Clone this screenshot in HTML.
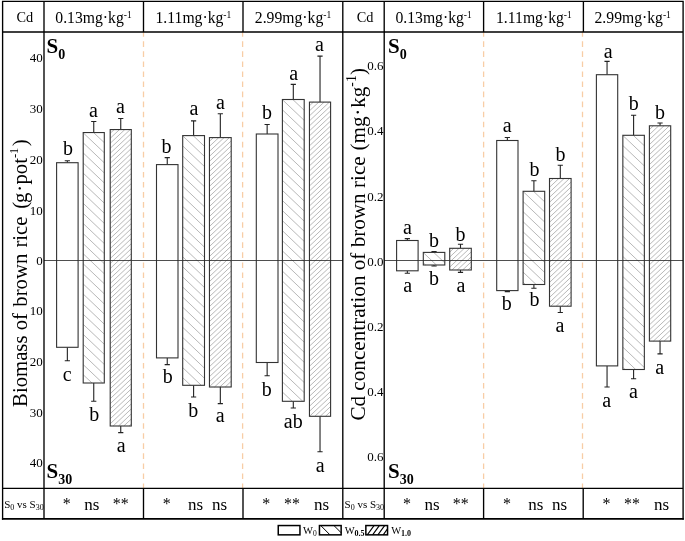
<!DOCTYPE html>
<html lang="en"><head><meta charset="utf-8"><title>Brown rice biomass and Cd concentration</title>
<style>html,body{margin:0;padding:0;background:#fff}svg{display:block}text{font-family:"Liberation Serif","Times New Roman",serif;fill:#000}.ln{stroke:#000;stroke-width:1.35;fill:none}.bar{stroke:#333;stroke-width:1.1;}.hat{stroke:#555;stroke-width:0.42;fill:none}.err{stroke:#222;stroke-width:1.1;fill:none}.dash{stroke:#f8cda6;stroke-width:1.3;stroke-dasharray:5.6 4.45;fill:none}.zero{stroke:#222;stroke-width:0.8;fill:none}.lt{font-size:20px;text-anchor:middle}.sg{font-size:21px;text-anchor:middle}.hd{font-size:15.7px;text-anchor:middle}.tk{font-size:13px;text-anchor:end}.yl{font-size:21.33px;}.sb{font-weight:bold;font-size:21px}.lg{font-size:10.5px}</style></head><body>
<svg width="685" height="541" viewBox="0 0 685 541">
<rect x="0" y="0" width="685" height="541" fill="#fff"/>
<line class="dash" x1="143.5" y1="31.25" x2="143.5" y2="488"/>
<line class="dash" x1="242.6" y1="31.25" x2="242.6" y2="488"/>
<line class="dash" x1="483.6" y1="31.25" x2="483.6" y2="488"/>
<line class="dash" x1="582.5" y1="31.25" x2="582.5" y2="488"/>
<line class="zero" x1="44" y1="260.5" x2="342.8" y2="260.5"/>
<line class="zero" x1="384.3" y1="260.5" x2="683" y2="260.5"/>
<path class="err" d="M67.35,162.7 V160.7 M64.75,160.7 H69.95 M67.35,347.3 V360.7 M64.75,360.7 H69.95"/>
<rect x="56.6" y="162.7" width="21.5" height="184.6" fill="#fff"/>
<rect class="bar" x="56.6" y="162.7" width="21.5" height="184.6" fill="none"/>
<line class="zero" x1="56.6" y1="260.5" x2="78.1" y2="260.5"/>
<path class="err" d="M93.75,132.55 V121.5 M91.15,121.5 H96.35 M93.75,383 V401.3 M91.15,401.3 H96.35"/>
<rect x="83.2" y="132.55" width="21.1" height="250.45" fill="#fff"/>
<path class="hat" d="M93.6,132.6L104.3,142.7M83.2,132.8L104.3,152.8M83.2,142.8L104.3,162.9M83.2,152.9L104.3,173.0M83.2,163.0L104.3,183.0M83.2,173.1L104.3,193.1M83.2,183.2L104.3,203.2M83.2,193.2L104.3,213.3M83.2,203.3L104.3,223.4M83.2,213.4L104.3,233.4M83.2,223.5L104.3,243.5M83.2,233.6L104.3,253.6M83.2,243.6L104.3,263.7M83.2,253.7L104.3,273.8M83.2,263.8L104.3,283.8M83.2,273.9L104.3,293.9M83.2,283.9L104.3,304.0M83.2,294.0L104.3,314.1M83.2,304.1L104.3,324.2M83.2,314.2L104.3,334.2M83.2,324.3L104.3,344.3M83.2,334.4L104.3,354.4M83.2,344.4L104.3,364.5M83.2,354.5L104.3,374.6M83.2,364.6L102.6,383.0M83.2,374.7L92.0,383.0"/>
<rect class="bar" x="83.2" y="132.55" width="21.1" height="250.45" fill="none"/>
<line class="zero" x1="83.2" y1="260.5" x2="104.3" y2="260.5"/>
<path class="err" d="M120.75,129.55 V118.5 M118.15,118.5 H123.35 M120.75,426 V432.6 M118.15,432.6 H123.35"/>
<rect x="110.2" y="129.55" width="21.1" height="296.45" fill="#fff"/>
<path class="hat" d="M110.2,133.3L114.2,129.6M110.2,138.3L119.5,129.6M110.2,143.3L124.8,129.6M110.2,148.3L130.2,129.6M110.2,153.3L131.3,133.5M110.2,158.3L131.3,138.5M110.2,163.3L131.3,143.5M110.2,168.4L131.3,148.5M110.2,173.4L131.3,153.5M110.2,178.4L131.3,158.5M110.2,183.4L131.3,163.5M110.2,188.4L131.3,168.6M110.2,193.4L131.3,173.6M110.2,198.4L131.3,178.6M110.2,203.4L131.3,183.6M110.2,208.4L131.3,188.6M110.2,213.4L131.3,193.6M110.2,218.4L131.3,198.6M110.2,223.4L131.3,203.6M110.2,228.5L131.3,208.6M110.2,233.5L131.3,213.6M110.2,238.5L131.3,218.6M110.2,243.5L131.3,223.6M110.2,248.5L131.3,228.7M110.2,253.5L131.3,233.7M110.2,258.5L131.3,238.7M110.2,263.5L131.3,243.7M110.2,268.5L131.3,248.7M110.2,273.5L131.3,253.7M110.2,278.5L131.3,258.7M110.2,283.5L131.3,263.7M110.2,288.5L131.3,268.7M110.2,293.6L131.3,273.7M110.2,298.6L131.3,278.7M110.2,303.6L131.3,283.7M110.2,308.6L131.3,288.7M110.2,313.6L131.3,293.8M110.2,318.6L131.3,298.8M110.2,323.6L131.3,303.8M110.2,328.6L131.3,308.8M110.2,333.6L131.3,313.8M110.2,338.6L131.3,318.8M110.2,343.6L131.3,323.8M110.2,348.6L131.3,328.8M110.2,353.7L131.3,333.8M110.2,358.7L131.3,338.8M110.2,363.7L131.3,343.8M110.2,368.7L131.3,348.8M110.2,373.7L131.3,353.9M110.2,378.7L131.3,358.9M110.2,383.7L131.3,363.9M110.2,388.7L131.3,368.9M110.2,393.7L131.3,373.9M110.2,398.7L131.3,378.9M110.2,403.7L131.3,383.9M110.2,408.7L131.3,388.9M110.2,413.7L131.3,393.9M110.2,418.8L131.3,398.9M110.2,423.8L131.3,403.9M113.1,426.0L131.3,408.9M118.5,426.0L131.3,413.9M123.8,426.0L131.3,419.0M129.1,426.0L131.3,424.0"/>
<rect class="bar" x="110.2" y="129.55" width="21.1" height="296.45" fill="none"/>
<line class="zero" x1="110.2" y1="260.5" x2="131.3" y2="260.5"/>
<path class="err" d="M167.25,164.6 V157.6 M164.65,157.6 H169.85 M167.25,357.9 V364.6 M164.65,364.6 H169.85"/>
<rect x="156.5" y="164.6" width="21.5" height="193.3" fill="#fff"/>
<rect class="bar" x="156.5" y="164.6" width="21.5" height="193.3" fill="none"/>
<line class="zero" x1="156.5" y1="260.5" x2="178" y2="260.5"/>
<path class="err" d="M193.6,135.6 V120.9 M191,120.9 H196.2 M193.6,385.3 V397 M191,397 H196.2"/>
<rect x="182.7" y="135.6" width="21.8" height="249.7" fill="#fff"/>
<path class="hat" d="M203.7,135.6L204.5,136.3M193.1,135.6L204.5,146.4M182.7,135.8L204.5,156.5M182.7,145.9L204.5,166.6M182.7,156.0L204.5,176.7M182.7,166.0L204.5,186.8M182.7,176.1L204.5,196.8M182.7,186.2L204.5,206.9M182.7,196.3L204.5,217.0M182.7,206.4L204.5,227.1M182.7,216.4L204.5,237.2M182.7,226.5L204.5,247.2M182.7,236.6L204.5,257.3M182.7,246.7L204.5,267.4M182.7,256.8L204.5,277.5M182.7,266.8L204.5,287.6M182.7,276.9L204.5,297.6M182.7,287.0L204.5,307.7M182.7,297.1L204.5,317.8M182.7,307.2L204.5,327.9M182.7,317.2L204.5,338.0M182.7,327.3L204.5,348.0M182.7,337.4L204.5,358.1M182.7,347.5L204.5,368.2M182.7,357.6L204.5,378.3M182.7,367.6L201.3,385.3M182.7,377.7L190.7,385.3"/>
<rect class="bar" x="182.7" y="135.6" width="21.8" height="249.7" fill="none"/>
<line class="zero" x1="182.7" y1="260.5" x2="204.5" y2="260.5"/>
<path class="err" d="M220.325,137.6 V113.7 M217.725,113.7 H222.925 M220.325,387 V403.6 M217.725,403.6 H222.925"/>
<rect x="209.45" y="137.6" width="21.75" height="249.4" fill="#fff"/>
<path class="hat" d="M209.4,141.3L213.4,137.6M209.4,146.4L218.8,137.6M209.4,151.4L224.1,137.6M209.4,156.4L229.4,137.6M209.4,161.4L231.2,140.9M209.4,166.4L231.2,145.9M209.4,171.4L231.2,151.0M209.4,176.4L231.2,156.0M209.4,181.4L231.2,161.0M209.4,186.4L231.2,166.0M209.4,191.4L231.2,171.0M209.4,196.4L231.2,176.0M209.4,201.4L231.2,181.0M209.4,206.5L231.2,186.0M209.4,211.5L231.2,191.0M209.4,216.5L231.2,196.0M209.4,221.5L231.2,201.0M209.4,226.5L231.2,206.0M209.4,231.5L231.2,211.0M209.4,236.5L231.2,216.1M209.4,241.5L231.2,221.1M209.4,246.5L231.2,226.1M209.4,251.5L231.2,231.1M209.4,256.5L231.2,236.1M209.4,261.5L231.2,241.1M209.4,266.6L231.2,246.1M209.4,271.6L231.2,251.1M209.4,276.6L231.2,256.1M209.4,281.6L231.2,261.1M209.4,286.6L231.2,266.1M209.4,291.6L231.2,271.1M209.4,296.6L231.2,276.2M209.4,301.6L231.2,281.2M209.4,306.6L231.2,286.2M209.4,311.6L231.2,291.2M209.4,316.6L231.2,296.2M209.4,321.6L231.2,301.2M209.4,326.6L231.2,306.2M209.4,331.7L231.2,311.2M209.4,336.7L231.2,316.2M209.4,341.7L231.2,321.2M209.4,346.7L231.2,326.2M209.4,351.7L231.2,331.2M209.4,356.7L231.2,336.2M209.4,361.7L231.2,341.3M209.4,366.7L231.2,346.3M209.4,371.7L231.2,351.3M209.4,376.7L231.2,356.3M209.4,381.7L231.2,361.3M209.4,386.7L231.2,366.3M214.5,387.0L231.2,371.3M219.8,387.0L231.2,376.3M225.2,387.0L231.2,381.3M230.5,387.0L231.2,386.3"/>
<rect class="bar" x="209.45" y="137.6" width="21.75" height="249.4" fill="none"/>
<line class="zero" x1="209.45" y1="260.5" x2="231.2" y2="260.5"/>
<path class="err" d="M267.15,134 V124.5 M264.55,124.5 H269.75 M267.15,362.5 V375.7 M264.55,375.7 H269.75"/>
<rect x="256.3" y="134" width="21.7" height="228.5" fill="#fff"/>
<rect class="bar" x="256.3" y="134" width="21.7" height="228.5" fill="none"/>
<line class="zero" x1="256.3" y1="260.5" x2="278" y2="260.5"/>
<path class="err" d="M293.3,99.5 V84.4 M290.7,84.4 H295.9 M293.3,401.3 V408 M290.7,408 H295.9"/>
<rect x="282.4" y="99.5" width="21.8" height="301.8" fill="#fff"/>
<path class="hat" d="M303.4,99.5L304.2,100.3M292.8,99.5L304.2,110.3M282.4,99.7L304.2,120.4M282.4,109.8L304.2,130.5M282.4,119.9L304.2,140.6M282.4,129.9L304.2,150.7M282.4,140.0L304.2,160.7M282.4,150.1L304.2,170.8M282.4,160.2L304.2,180.9M282.4,170.3L304.2,191.0M282.4,180.3L304.2,201.1M282.4,190.4L304.2,211.1M282.4,200.5L304.2,221.2M282.4,210.6L304.2,231.3M282.4,220.7L304.2,241.4M282.4,230.7L304.2,251.5M282.4,240.8L304.2,261.5M282.4,250.9L304.2,271.6M282.4,261.0L304.2,281.7M282.4,271.1L304.2,291.8M282.4,281.1L304.2,301.9M282.4,291.2L304.2,311.9M282.4,301.3L304.2,322.0M282.4,311.4L304.2,332.1M282.4,321.5L304.2,342.2M282.4,331.5L304.2,352.3M282.4,341.6L304.2,362.3M282.4,351.7L304.2,372.4M282.4,361.8L304.2,382.5M282.4,371.9L304.2,392.6M282.4,381.9L302.8,401.3M282.4,392.0L292.2,401.3"/>
<rect class="bar" x="282.4" y="99.5" width="21.8" height="301.8" fill="none"/>
<line class="zero" x1="282.4" y1="260.5" x2="304.2" y2="260.5"/>
<path class="err" d="M320.025,102.1 V56.1 M317.425,56.1 H322.625 M320.025,416.3 V451.8 M317.425,451.8 H322.625"/>
<rect x="309.45" y="102.1" width="21.15" height="314.2" fill="#fff"/>
<path class="hat" d="M309.4,105.8L313.4,102.1M309.4,110.9L318.8,102.1M309.4,115.9L324.1,102.1M309.4,120.9L329.4,102.1M309.4,125.9L330.6,106.0M309.4,130.9L330.6,111.0M309.4,135.9L330.6,116.0M309.4,140.9L330.6,121.0M309.4,145.9L330.6,126.0M309.4,150.9L330.6,131.0M309.4,155.9L330.6,136.0M309.4,160.9L330.6,141.1M309.4,165.9L330.6,146.1M309.4,171.0L330.6,151.1M309.4,176.0L330.6,156.1M309.4,181.0L330.6,161.1M309.4,186.0L330.6,166.1M309.4,191.0L330.6,171.1M309.4,196.0L330.6,176.1M309.4,201.0L330.6,181.1M309.4,206.0L330.6,186.1M309.4,211.0L330.6,191.1M309.4,216.0L330.6,196.1M309.4,221.0L330.6,201.2M309.4,226.0L330.6,206.2M309.4,231.1L330.6,211.2M309.4,236.1L330.6,216.2M309.4,241.1L330.6,221.2M309.4,246.1L330.6,226.2M309.4,251.1L330.6,231.2M309.4,256.1L330.6,236.2M309.4,261.1L330.6,241.2M309.4,266.1L330.6,246.2M309.4,271.1L330.6,251.2M309.4,276.1L330.6,256.2M309.4,281.1L330.6,261.2M309.4,286.1L330.6,266.3M309.4,291.1L330.6,271.3M309.4,296.2L330.6,276.3M309.4,301.2L330.6,281.3M309.4,306.2L330.6,286.3M309.4,311.2L330.6,291.3M309.4,316.2L330.6,296.3M309.4,321.2L330.6,301.3M309.4,326.2L330.6,306.3M309.4,331.2L330.6,311.3M309.4,336.2L330.6,316.3M309.4,341.2L330.6,321.3M309.4,346.2L330.6,326.4M309.4,351.2L330.6,331.4M309.4,356.2L330.6,336.4M309.4,361.3L330.6,341.4M309.4,366.3L330.6,346.4M309.4,371.3L330.6,351.4M309.4,376.3L330.6,356.4M309.4,381.3L330.6,361.4M309.4,386.3L330.6,366.4M309.4,391.3L330.6,371.4M309.4,396.3L330.6,376.4M309.4,401.3L330.6,381.4M309.4,406.3L330.6,386.4M309.4,411.3L330.6,391.5M309.5,416.3L330.6,396.5M314.8,416.3L330.6,401.5M320.2,416.3L330.6,406.5M325.5,416.3L330.6,411.5"/>
<rect class="bar" x="309.45" y="102.1" width="21.15" height="314.2" fill="none"/>
<line class="zero" x1="309.45" y1="260.5" x2="330.6" y2="260.5"/>
<path class="err" d="M407.35,240.5 V238.6 M404.75,238.6 H409.95 M407.35,270.8 V273.2 M404.75,273.2 H409.95"/>
<rect x="396.6" y="240.5" width="21.5" height="30.3" fill="#fff"/>
<rect class="bar" x="396.6" y="240.5" width="21.5" height="30.3" fill="none"/>
<line class="zero" x1="396.6" y1="260.5" x2="418.1" y2="260.5"/>
<path class="err" d="M434.05,252.4 V251.5 M431.45,251.5 H436.65 M434.05,265 V266 M431.45,266 H436.65"/>
<rect x="423.3" y="252.4" width="21.5" height="12.6" fill="#fff"/>
<path class="hat" d="M444.3,252.4L444.8,252.9M433.7,252.4L444.8,262.9M423.3,252.6L436.4,265.0M423.3,262.7L425.7,265.0"/>
<rect class="bar" x="423.3" y="252.4" width="21.5" height="12.6" fill="none"/>
<line class="zero" x1="423.3" y1="260.5" x2="444.8" y2="260.5"/>
<path class="err" d="M460.5,248.3 V244.2 M457.9,244.2 H463.1 M460.5,270 V272.4 M457.9,272.4 H463.1"/>
<rect x="449.7" y="248.3" width="21.6" height="21.7" fill="#fff"/>
<path class="hat" d="M449.7,252.1L453.7,248.3M449.7,257.1L459.0,248.3M449.7,262.1L464.3,248.3M449.7,267.1L469.7,248.3M451.9,270.0L471.3,251.8M457.2,270.0L471.3,256.8M462.6,270.0L471.3,261.8M467.9,270.0L471.3,266.8"/>
<rect class="bar" x="449.7" y="248.3" width="21.6" height="21.7" fill="none"/>
<line class="zero" x1="449.7" y1="260.5" x2="471.3" y2="260.5"/>
<path class="err" d="M507.35,140.5 V137.5 M504.75,137.5 H509.95 M507.35,290.6 V291.6 M504.75,291.6 H509.95"/>
<rect x="496.7" y="140.5" width="21.3" height="150.1" fill="#fff"/>
<rect class="bar" x="496.7" y="140.5" width="21.3" height="150.1" fill="none"/>
<line class="zero" x1="496.7" y1="260.5" x2="518" y2="260.5"/>
<path class="err" d="M533.9,191.3 V180.8 M531.3,180.8 H536.5 M533.9,284.5 V288.3 M531.3,288.3 H536.5"/>
<rect x="523.1" y="191.3" width="21.6" height="93.2" fill="#fff"/>
<path class="hat" d="M544.1,191.3L544.7,191.9M533.5,191.3L544.7,201.9M523.1,191.5L544.7,212.0M523.1,201.6L544.7,222.1M523.1,211.7L544.7,232.2M523.1,221.7L544.7,242.3M523.1,231.8L544.7,252.3M523.1,241.9L544.7,262.4M523.1,252.0L544.7,272.5M523.1,262.1L544.7,282.6M523.1,272.1L536.1,284.5M523.1,282.2L525.5,284.5"/>
<rect class="bar" x="523.1" y="191.3" width="21.6" height="93.2" fill="none"/>
<line class="zero" x1="523.1" y1="260.5" x2="544.7" y2="260.5"/>
<path class="err" d="M560.3,178.5 V165.3 M557.7,165.3 H562.9 M560.3,306.2 V312.5 M557.7,312.5 H562.9"/>
<rect x="549.5" y="178.5" width="21.6" height="127.7" fill="#fff"/>
<path class="hat" d="M549.5,182.2L553.5,178.5M549.5,187.3L558.8,178.5M549.5,192.3L564.1,178.5M549.5,197.3L569.5,178.5M549.5,202.3L571.1,182.0M549.5,207.3L571.1,187.0M549.5,212.3L571.1,192.0M549.5,217.3L571.1,197.0M549.5,222.3L571.1,202.0M549.5,227.3L571.1,207.0M549.5,232.3L571.1,212.0M549.5,237.3L571.1,217.0M549.5,242.3L571.1,222.0M549.5,247.4L571.1,227.0M549.5,252.4L571.1,232.1M549.5,257.4L571.1,237.1M549.5,262.4L571.1,242.1M549.5,267.4L571.1,247.1M549.5,272.4L571.1,252.1M549.5,277.4L571.1,257.1M549.5,282.4L571.1,262.1M549.5,287.4L571.1,267.1M549.5,292.4L571.1,272.1M549.5,297.4L571.1,277.1M549.5,302.4L571.1,282.1M550.8,306.2L571.1,287.1M556.2,306.2L571.1,292.2M561.5,306.2L571.1,297.2M566.8,306.2L571.1,302.2"/>
<rect class="bar" x="549.5" y="178.5" width="21.6" height="127.7" fill="none"/>
<line class="zero" x1="549.5" y1="260.5" x2="571.1" y2="260.5"/>
<path class="err" d="M607.05,74.7 V61.4 M604.45,61.4 H609.65 M607.05,365.9 V387 M604.45,387 H609.65"/>
<rect x="596.4" y="74.7" width="21.3" height="291.2" fill="#fff"/>
<rect class="bar" x="596.4" y="74.7" width="21.3" height="291.2" fill="none"/>
<line class="zero" x1="596.4" y1="260.5" x2="617.7" y2="260.5"/>
<path class="err" d="M633.6,135.3 V115.3 M631,115.3 H636.2 M633.6,369.5 V378.8 M631,378.8 H636.2"/>
<rect x="622.85" y="135.3" width="21.5" height="234.2" fill="#fff"/>
<path class="hat" d="M643.9,135.3L644.4,135.8M633.2,135.3L644.4,145.8M622.9,135.5L644.4,155.9M622.9,145.6L644.4,166.0M622.9,155.7L644.4,176.1M622.9,165.7L644.4,186.2M622.9,175.8L644.4,196.2M622.9,185.9L644.4,206.3M622.9,196.0L644.4,216.4M622.9,206.1L644.4,226.5M622.9,216.1L644.4,236.6M622.9,226.2L644.4,246.6M622.9,236.3L644.4,256.7M622.9,246.4L644.4,266.8M622.9,256.5L644.4,276.9M622.9,266.5L644.4,287.0M622.9,276.6L644.4,297.0M622.9,286.7L644.4,307.1M622.9,296.8L644.4,317.2M622.9,306.9L644.4,327.3M622.9,316.9L644.4,337.4M622.9,327.0L644.4,347.4M622.9,337.1L644.4,357.5M622.9,347.2L644.4,367.6M622.9,357.3L635.7,369.5M622.9,367.3L625.1,369.5"/>
<rect class="bar" x="622.85" y="135.3" width="21.5" height="234.2" fill="none"/>
<line class="zero" x1="622.85" y1="260.5" x2="644.35" y2="260.5"/>
<path class="err" d="M660.05,125.8 V123 M657.45,123 H662.65 M660.05,341.1 V353.9 M657.45,353.9 H662.65"/>
<rect x="649.4" y="125.8" width="21.3" height="215.3" fill="#fff"/>
<path class="hat" d="M649.4,129.6L653.4,125.8M649.4,134.6L658.7,125.8M649.4,139.6L664.0,125.8M649.4,144.6L669.4,125.8M649.4,149.6L670.7,129.6M649.4,154.6L670.7,134.6M649.4,159.6L670.7,139.6M649.4,164.6L670.7,144.6M649.4,169.6L670.7,149.6M649.4,174.6L670.7,154.6M649.4,179.6L670.7,159.6M649.4,184.6L670.7,164.6M649.4,189.6L670.7,169.6M649.4,194.7L670.7,174.6M649.4,199.7L670.7,179.6M649.4,204.7L670.7,184.6M649.4,209.7L670.7,189.7M649.4,214.7L670.7,194.7M649.4,219.7L670.7,199.7M649.4,224.7L670.7,204.7M649.4,229.7L670.7,209.7M649.4,234.7L670.7,214.7M649.4,239.7L670.7,219.7M649.4,244.7L670.7,224.7M649.4,249.7L670.7,229.7M649.4,254.8L670.7,234.7M649.4,259.8L670.7,239.7M649.4,264.8L670.7,244.7M649.4,269.8L670.7,249.8M649.4,274.8L670.7,254.8M649.4,279.8L670.7,259.8M649.4,284.8L670.7,264.8M649.4,289.8L670.7,269.8M649.4,294.8L670.7,274.8M649.4,299.8L670.7,279.8M649.4,304.8L670.7,284.8M649.4,309.8L670.7,289.8M649.4,314.8L670.7,294.8M649.4,319.9L670.7,299.8M649.4,324.9L670.7,304.8M649.4,329.9L670.7,309.8M649.4,334.9L670.7,314.9M649.4,339.9L670.7,319.9M653.4,341.1L670.7,324.9M658.8,341.1L670.7,329.9M664.1,341.1L670.7,334.9M669.4,341.1L670.7,339.9"/>
<rect class="bar" x="649.4" y="125.8" width="21.3" height="215.3" fill="none"/>
<line class="zero" x1="649.4" y1="260.5" x2="670.7" y2="260.5"/>
<path class="ln" d="M2.6,1.4 H683.1 M2.6,0.73 V519.7 M683.1,0.73 V519.7 M2.6,32 H683.1 M2.6,488.3 H683.1 M44,1.4 V518.9 M342.8,1.4 V518.9 M384.2,1.4 V518.9"/>
<path class="ln" style="stroke-width:1.7" d="M1.93,518.9 H683.77"/>
<path class="ln" d="M143.5,1.4 V32 M243,1.4 V32 M483.6,1.4 V32 M583.4,1.4 V32 M143.5,488.3 V518.9 M243,488.3 V518.9 M483.6,488.3 V518.9 M583.2,488.3 V518.9"/>
<text class="hd" x="24.8" y="21.8" style="font-size:14.3px">Cd</text>
<text class="hd" x="365" y="21.8" style="font-size:14.3px">Cd</text>
<text class="hd" x="93.5" y="23">0.13mg·kg<tspan font-size="9.5px" dy="-4.8">-1</tspan></text>
<text class="hd" x="193.4" y="23">1.11mg·kg<tspan font-size="9.5px" dy="-4.8">-1</tspan></text>
<text class="hd" x="293" y="23">2.99mg·kg<tspan font-size="9.5px" dy="-4.8">-1</tspan></text>
<text class="hd" x="433.6" y="23">0.13mg·kg<tspan font-size="9.5px" dy="-4.8">-1</tspan></text>
<text class="hd" x="533.9" y="23">1.11mg·kg<tspan font-size="9.5px" dy="-4.8">-1</tspan></text>
<text class="hd" x="632.7" y="23">2.99mg·kg<tspan font-size="9.5px" dy="-4.8">-1</tspan></text>
<text class="tk" x="42.8" y="61.7">40</text>
<text class="tk" x="42.8" y="112.9">30</text>
<text class="tk" x="42.8" y="164">20</text>
<text class="tk" x="42.8" y="214.6">10</text>
<text class="tk" x="42.8" y="264.7">0</text>
<text class="tk" x="42.8" y="314.9">10</text>
<text class="tk" x="42.8" y="366">20</text>
<text class="tk" x="42.8" y="417.1">30</text>
<text class="tk" x="42.8" y="466.9">40</text>
<text class="tk" x="383.5" y="69.8">0.6</text>
<text class="tk" x="383.5" y="135.2">0.4</text>
<text class="tk" x="383.5" y="201.2">0.2</text>
<text class="tk" x="383.5" y="265.5">0.0</text>
<text class="tk" x="383.5" y="330.5">0.2</text>
<text class="tk" x="383.5" y="396.2">0.4</text>
<text class="tk" x="383.5" y="461.1">0.6</text>
<text class="yl" transform="translate(27.1,406.9) rotate(-90) scale(0.972,1)">Biomass of<tspan dx="1.3"> brown</tspan><tspan dx="1.0"> rice</tspan><tspan dx="2.8"> (</tspan><tspan dx="-1.2">g</tspan><tspan dx="0.8">·</tspan><tspan dx="0.3">pot</tspan><tspan font-size="13px" dy="-9">-1</tspan><tspan dy="9" dx="1.4">)</tspan></text>
<text class="yl" transform="translate(365.3,420.6) rotate(-90) scale(0.992,1)">Cd concentration of brown rice<tspan dx="0.5"> (</tspan>mg<tspan dx="0.8">·</tspan><tspan dx="0.8">kg</tspan><tspan font-size="14px" dy="-9">-1</tspan><tspan dy="9" dx="0">)</tspan></text>
<text class="sb" x="46.5" y="53.3">S<tspan font-size="14px" dy="5.5">0</tspan></text>
<text class="sb" x="46.5" y="478.3">S<tspan font-size="14px" dy="5.5">30</tspan></text>
<text class="sb" x="388" y="53.3">S<tspan font-size="14px" dy="5.5">0</tspan></text>
<text class="sb" x="388" y="478.3">S<tspan font-size="14px" dy="5.5">30</tspan></text>
<text class="lt" x="68" y="155.1">b</text>
<text class="lt" x="93.5" y="116.5">a</text>
<text class="lt" x="120.4" y="112.5">a</text>
<text class="lt" x="67.2" y="380.9">c</text>
<text class="lt" x="94.3" y="420.8">b</text>
<text class="lt" x="121.1" y="451.8">a</text>
<text class="lt" x="166.6" y="152.6">b</text>
<text class="lt" x="194" y="115">a</text>
<text class="lt" x="220.4" y="108.7">a</text>
<text class="lt" x="167.8" y="383">b</text>
<text class="lt" x="193.2" y="416.7">b</text>
<text class="lt" x="220.2" y="422.4">a</text>
<text class="lt" x="267" y="119.4">b</text>
<text class="lt" x="293.7" y="80.1">a</text>
<text class="lt" x="319.5" y="51.3">a</text>
<text class="lt" x="266.8" y="395.6">b</text>
<text class="lt" x="293.2" y="427.5">ab</text>
<text class="lt" x="320.2" y="471.5">a</text>
<text class="lt" x="407.4" y="233.8">a</text>
<text class="lt" x="433.9" y="247.2">b</text>
<text class="lt" x="460.6" y="240.9">b</text>
<text class="lt" x="407.7" y="292">a</text>
<text class="lt" x="433.9" y="285">b</text>
<text class="lt" x="461" y="291.6">a</text>
<text class="lt" x="507.2" y="132">a</text>
<text class="lt" x="534.4" y="175.5">b</text>
<text class="lt" x="560.6" y="160.8">b</text>
<text class="lt" x="506.7" y="309.9">b</text>
<text class="lt" x="534.4" y="305.8">b</text>
<text class="lt" x="560" y="331.9">a</text>
<text class="lt" x="608.3" y="58.3">a</text>
<text class="lt" x="633.8" y="110.3">b</text>
<text class="lt" x="659.9" y="119.4">b</text>
<text class="lt" x="606.6" y="406.5">a</text>
<text class="lt" x="633.5" y="398.1">a</text>
<text class="lt" x="659.6" y="373.7">a</text>
<text class="sg" x="66.7" y="509.2" style="font-size:16px">*</text>
<text class="sg" x="91.8" y="509.6" style="font-size:17px">ns</text>
<text class="sg" x="120.7" y="509.2" style="font-size:16px">**</text>
<text class="sg" x="166.7" y="509.2" style="font-size:16px">*</text>
<text class="sg" x="195.5" y="509.6" style="font-size:17px">ns</text>
<text class="sg" x="219.5" y="509.6" style="font-size:17px">ns</text>
<text class="sg" x="266.2" y="509.2" style="font-size:16px">*</text>
<text class="sg" x="292" y="509.2" style="font-size:16px">**</text>
<text class="sg" x="321.5" y="509.6" style="font-size:17px">ns</text>
<text class="sg" x="406.9" y="509.2" style="font-size:16px">*</text>
<text class="sg" x="432" y="509.6" style="font-size:17px">ns</text>
<text class="sg" x="460.8" y="509.2" style="font-size:16px">**</text>
<text class="sg" x="506.9" y="509.2" style="font-size:16px">*</text>
<text class="sg" x="535.9" y="509.6" style="font-size:17px">ns</text>
<text class="sg" x="559.5" y="509.6" style="font-size:17px">ns</text>
<text class="sg" x="606.4" y="509.2" style="font-size:16px">*</text>
<text class="sg" x="632.1" y="509.2" style="font-size:16px">**</text>
<text class="sg" x="661.5" y="509.6" style="font-size:17px">ns</text>
<text x="4.2" y="507.6" font-size="11px">S<tspan font-size="8px" dy="2.6">0</tspan><tspan dy="-2.6"> vs S</tspan><tspan font-size="8px" dy="2.6">30</tspan></text>
<text x="344.5" y="507.6" font-size="11px">S<tspan font-size="8px" dy="2.6">0</tspan><tspan dy="-2.6"> vs S</tspan><tspan font-size="8px" dy="2.6">30</tspan></text>
<rect x="278.25" y="525.55" width="21.7" height="9.3" fill="#fff" stroke="#000" stroke-width="1.5"/>
<rect x="319.45" y="525.55" width="21.7" height="9.3" fill="#fff" stroke="#000" stroke-width="1.5"/>
<rect x="365.85" y="525.55" width="21.7" height="9.3" fill="#fff" stroke="#000" stroke-width="1.5"/>
<path d="M320.8,525.6 L330,534.9 M334,525.6 L341.2,532.8" stroke="#000" stroke-width="1" fill="none"/>
<path d="M367.3,534.9 L374,525.6 M372.6,534.9 L379.3,525.6 M377.9,534.9 L384.6,525.6 M383.2,534.9 L387.5,528.9" stroke="#000" stroke-width="1.1" fill="none"/>
<text class="lg" x="303.0" y="533.7">W<tspan font-size="7.5px" dy="2.2">0</tspan></text>
<text class="lg" x="344.7" y="533.7">W<tspan font-size="8px" font-weight="bold" dy="2.2">0.5</tspan></text>
<text class="lg" x="391.2" y="533.7">W<tspan font-size="8px" font-weight="bold" dy="2.2">1.0</tspan></text>
</svg></body></html>
